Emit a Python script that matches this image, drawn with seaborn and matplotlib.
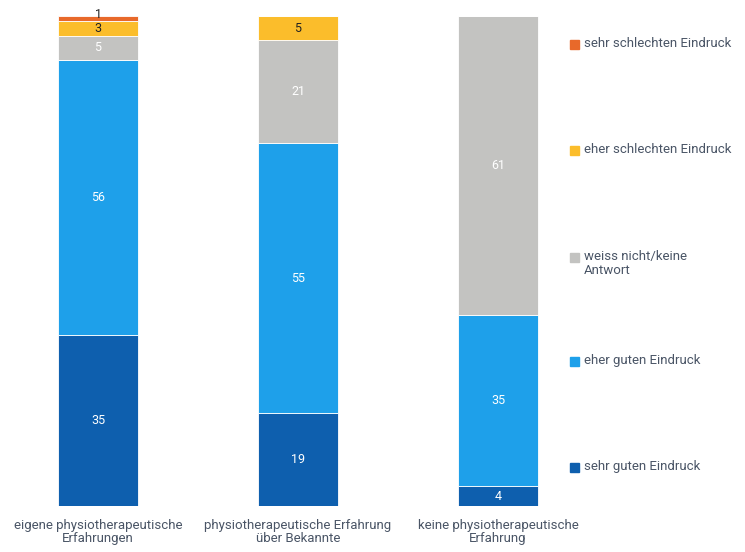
import matplotlib
matplotlib.use("Agg")
import matplotlib.pyplot as plt
from matplotlib.patches import Rectangle
import seaborn as sns
import pandas as pd

# Survey groups (x axis) and answer categories (stack order, top first)
groups = [
    "eigene physiotherapeutische\nErfahrungen",
    "physiotherapeutische Erfahrung\nüber Bekannte",
    "keine physiotherapeutische\nErfahrung",
]
ratings = [
    "sehr schlechten Eindruck",
    "eher schlechten Eindruck",
    "weiss nicht/keine\nAntwort",
    "eher guten Eindruck",
    "sehr guten Eindruck",
]
sehr_schlecht = [1, 0, 0]
eher_schlecht = [3, 5, 0]
weiss_nicht = [5, 21, 61]
eher_gut = [56, 55, 35]
sehr_gut = [35, 19, 4]

colors = ["#e8692a", "#fbbd2b", "#c3c3c1", "#1ea0ea", "#0e5fae"]
label_colors = ["#222222", "#222222", "white", "white", "white"]
text_color = "#4a5566"

series = [sehr_schlecht, eher_schlecht, weiss_nicht, eher_gut, sehr_gut]
rows = []
for rating, vals in zip(ratings, series):
    for g, v in zip(groups, vals):
        rows.append({"group": g, "rating": rating, "value": v})
df = pd.DataFrame(rows)

sns.set_theme(style="white")
plt.rcParams["font.family"] = ["Roboto", "DejaVu Sans"]

fig = plt.figure(figsize=(7.45, 5.52), dpi=100)
W, H = 745, 552
ax_left, ax_right, ax_top, ax_bottom = 0, 560, 16, 506
ax = fig.add_axes([ax_left / W, (H - ax_bottom) / H,
                   (ax_right - ax_left) / W, (ax_bottom - ax_top) / H])

sns.histplot(data=df, x="group", hue="rating", weights="value",
             hue_order=ratings, palette=colors, multiple="stack",
             discrete=True, shrink=0.4, alpha=1, edgecolor="white",
             linewidth=0.6, legend=False, ax=ax)

# value labels centred in each segment (stacked from the bottom);
# very thin segments get their label nudged up so it stays readable
bottoms = [0, 0, 0]
for rating, vals, lc in zip(reversed(ratings), reversed(series),
                            reversed(label_colors)):
    for i, v in enumerate(vals):
        if v > 0:
            y = bottoms[i] + v / 2
            if v < 2:
                y = bottoms[i] + v + 0.4
            ax.text(i, y, str(v), ha="center", va="center",
                    fontsize=9, color=lc, clip_on=False)
        bottoms[i] += v

ax.set_xlim(-98 / 200, (560 - 98) / 200)
ax.set_ylim(0, 100)
ax.set_xticks(range(len(groups)))
ax.set_xticklabels(groups, fontsize=9.5, color=text_color, linespacing=1.05)
ax.tick_params(axis="x", length=0, pad=9)
ax.set_yticks([])
ax.set_xlabel("")
ax.set_ylabel("")
sns.despine(ax=ax, left=True, bottom=True)

# legend on the right
legend_y = [44, 150, 257, 361, 467]
for rating, col, y in zip(ratings, colors, legend_y):
    fig.patches.append(Rectangle((570 / W, 1 - (y + 5) / H), 9 / W, 9 / H,
                                 transform=fig.transFigure, color=col))
    fig.text(584 / W, 1 - (y - 7) / H, rating, ha="left", va="top",
             fontsize=9.5, color=text_color, linespacing=1.15)

fig.savefig("out.png", dpi=100)
